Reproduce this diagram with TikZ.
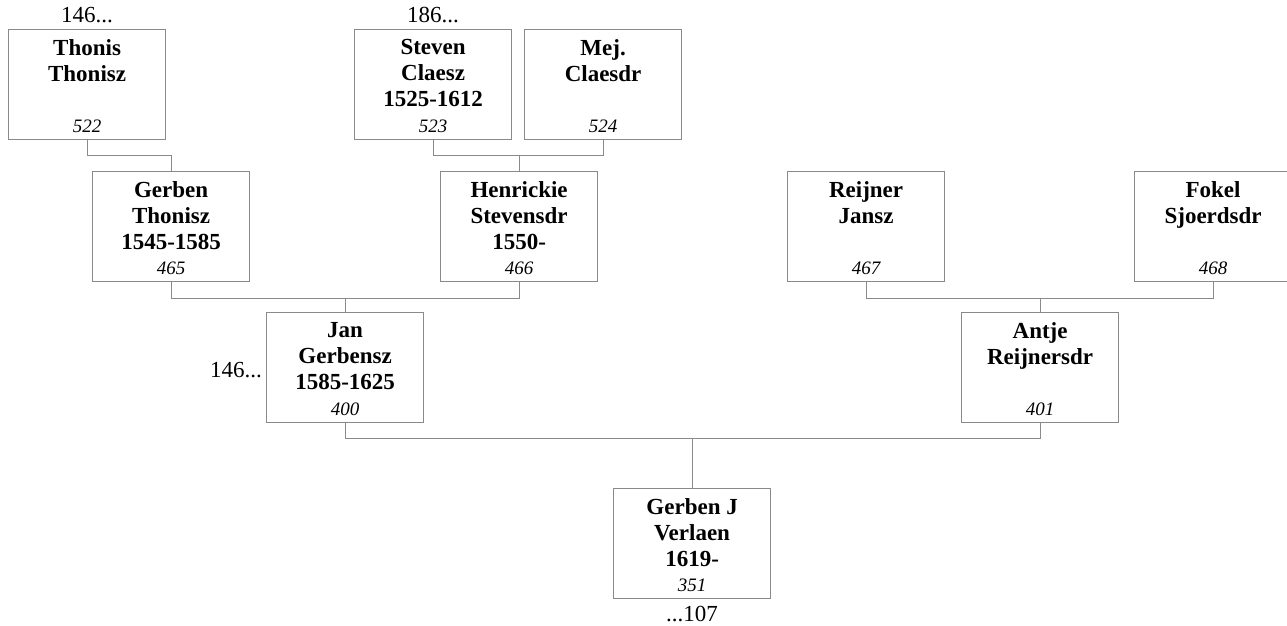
\documentclass[tikz,border=0pt]{standalone}
\usepackage{fontspec}
\setmainfont{Liberation Serif}
\definecolor{boxgray}{HTML}{8A8A8A}
\tikzset{
  pbox/.style={draw=boxgray, line width=1.2pt, minimum width=157pt, minimum height=110pt, inner sep=0pt, anchor=north west},
  pname/.style={anchor=north, inner sep=0pt, align=center, font={\fontsize{23}{26}\selectfont\bfseries}},
  pnum/.style={anchor=base, inner sep=0pt, font={\fontsize{19}{22}\selectfont\itshape}},
  pref/.style={inner sep=0pt, font={\fontsize{23}{26}\selectfont}},
  conn/.style={draw=boxgray, line width=1.2pt}
}
\begin{document}
\begin{tikzpicture}[x=1pt,y=-1pt]
\useasboundingbox (0,0) rectangle (1287,626);
% boxes
\node[pbox] (thonis) at (8,29) {};
\node[pbox] (steven) at (354,29) {};
\node[pbox] (mej) at (524,29) {};
\node[pbox] (gerben) at (92,171) {};
\node[pbox] (henr) at (440,171) {};
\node[pbox] (reijner) at (787,171) {};
\node[pbox] (fokel) at (1134,171) {};
\node[pbox] (jan) at (266,312) {};
\node[pbox] (antje) at (961,312) {};
\node[pbox] (gj) at (613,488) {};
% names
\node[pname] (thonisT) at ([yshift=-10pt]thonis.north) {Thonis\\Thonisz};
\node[pname] (stevenT) at ([yshift=-10pt]steven.north) {Steven\\Claesz\\1525-1612};
\node[pname] (mejT) at ([yshift=-10pt]mej.north) {Mej.\\Claesdr};
\node[pname] (gerbenT) at ([yshift=-10pt]gerben.north) {Gerben\\Thonisz\\1545-1585};
\node[pname] (henrT) at ([yshift=-10pt]henr.north) {Henrickie\\Stevensdr\\1550-};
\node[pname] (reijnerT) at ([yshift=-10pt]reijner.north) {Reijner\\Jansz};
\node[pname] (fokelT) at ([yshift=-10pt]fokel.north) {Fokel\\Sjoerdsdr};
\node[pname] (janT) at ([yshift=-10pt]jan.north) {Jan\\Gerbensz\\1585-1625};
\node[pname] (antjeT) at ([yshift=-10pt]antje.north) {Antje\\Reijnersdr};
\node[pname] (gjT) at ([yshift=-10pt]gj.north) {Gerben J\\Verlaen\\1619-};
% numbers
\node[pnum] (thonisN) at ([yshift=7.6pt]thonis.south) {522};
\node[pnum] (stevenN) at ([yshift=7.6pt]steven.south) {523};
\node[pnum] (mejN) at ([yshift=7.6pt]mej.south) {524};
\node[pnum] (gerbenN) at ([yshift=7.6pt]gerben.south) {465};
\node[pnum] (henrN) at ([yshift=7.6pt]henr.south) {466};
\node[pnum] (reijnerN) at ([yshift=7.6pt]reijner.south) {467};
\node[pnum] (fokelN) at ([yshift=7.6pt]fokel.south) {468};
\node[pnum] (janN) at ([yshift=7.6pt]jan.south) {400};
\node[pnum] (antjeN) at ([yshift=7.6pt]antje.south) {401};
\node[pnum] (gjN) at ([yshift=7.6pt]gj.south) {351};
% references
\node[pref, anchor=base] (ref1) at ([yshift=6.3pt]thonis.north) {146...};
\node[pref, anchor=base] (ref2) at ([yshift=6.3pt]steven.north) {186...};
\node[pref, anchor=base east] (ref3) at ([xshift=-4pt,yshift=-10pt]jan.west) {146...};
\node[pref, anchor=base] (ref4) at ([yshift=-22.5pt]gj.south) {...107};
% junctions
\coordinate (j1) at ([yshift=-15pt]thonis.south);
\coordinate (j2) at ([yshift=-15pt]steven.south);
\coordinate (j3) at ([yshift=-16pt]gerben.south);
\coordinate (j4) at ([yshift=-16pt]reijner.south);
\coordinate (j5) at ([yshift=-15pt]jan.south);
% connectors
\draw[conn] (thonis.south) -- (j1) -| (gerben.north);
\draw[conn] (steven.south) -- (j2) -| (mej.south);
\draw[conn] (henr.north) -- (henr.north |- j2);
\draw[conn] (gerben.south) -- (j3) -| (henr.south);
\draw[conn] (jan.north) -- (jan.north |- j3);
\draw[conn] (reijner.south) -- (j4) -| (fokel.south);
\draw[conn] (antje.north) -- (antje.north |- j4);
\draw[conn] (jan.south) -- (j5) -| (antje.south);
\draw[conn] (gj.north) -- (gj.north |- j5);
\end{tikzpicture}
\end{document}
